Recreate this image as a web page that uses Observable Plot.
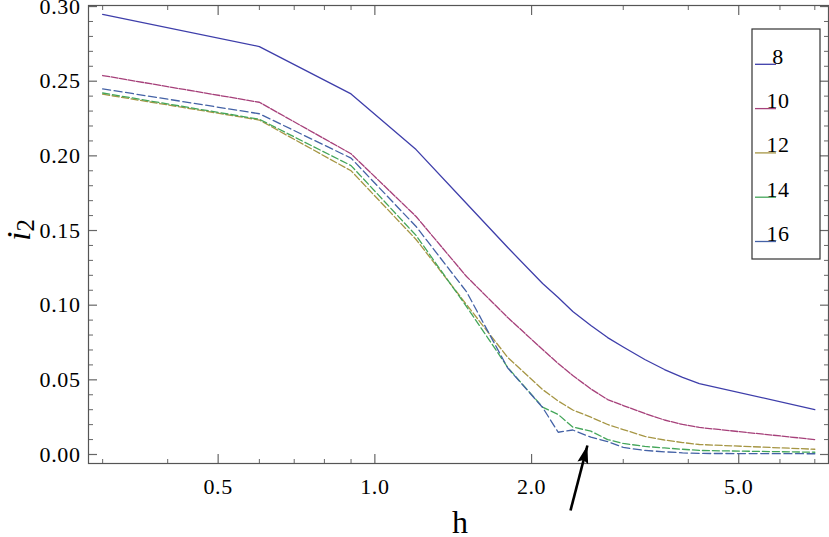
<!DOCTYPE html>
<html><head><meta charset="utf-8">
<script src="https://cdn.jsdelivr.net/npm/d3@7"></script>
<script src="https://cdn.jsdelivr.net/npm/@observablehq/plot@0.6"></script>
<style>
html,body{margin:0;padding:0;background:#fff;}
#chart{position:relative;width:829px;height:537px;}
</style></head><body><div id="chart"></div>
<script>
// ---- data ----
const h   = [0.3, 0.6, 0.9, 1.2, 1.5, 1.8, 2.1, 2.25, 2.4, 2.6, 2.8, 3.0, 3.3, 3.6, 3.9, 4.2, 7.0];
const s8  = [0.2948,0.2732,0.2415,0.2042,0.1681,0.1386,0.1145,0.1051,0.0958,0.0864,0.0783,0.0720,0.0636,0.0569,0.0516,0.0475,0.0301];
const s10 = [0.2538,0.2359,0.2014,0.1594,0.1192,0.0917,0.0703,0.0609,0.0529,0.0439,0.0368,0.0328,0.0275,0.0231,0.0201,0.0181,0.0100];
const s12 = [0.2413,0.2240,0.1900,0.1440,0.1004,0.0650,0.0435,0.0358,0.0298,0.0250,0.0201,0.0167,0.0121,0.0097,0.0080,0.0067,0.0035];
const s14 = [0.2421,0.2245,0.1935,0.1467,0.0991,0.0583,0.0317,0.0268,0.0184,0.0156,0.0100,0.0074,0.0054,0.0044,0.0035,0.0027,0.0015];
const s16 = [0.2449,0.2282,0.1985,0.1527,0.1090,0.0579,0.0315,0.0149,0.0164,0.0116,0.0087,0.0047,0.0027,0.0018,0.0011,0.0007,0.0005];
const seriesNames  = ["8", "10", "12", "14", "16"];
const seriesValues = [s8, s10, s12, s14, s16];
const seriesColors = ["#3e3eaa", "#a6407a", "#a69644", "#44a65a", "#4462a6"];
const seriesDashes = [null, "7,1.6", "7,2.6", "7,3", "8,3.6"];

const xMajor = [0.5, 1, 2, 5];
const xMinor = [0.3, 0.4, 0.6, 0.7, 0.8, 0.9, 3, 4, 6, 7];
const yMajor = [0, 0.05, 0.10, 0.15, 0.20, 0.25, 0.30];
const yMinor = [0.01,0.02,0.03,0.04,0.06,0.07,0.08,0.09,0.11,0.12,0.13,0.14,0.16,0.17,0.18,0.19,0.21,0.22,0.23,0.24,0.26,0.27,0.28,0.29];

const arrowTail = [{h: 2.376, v: -0.0375}];
const arrowTip  = [{h: 2.56, v: 0.006}];

// ---- chart ----
const font = "'Liberation Serif', 'Times New Roman', serif";
const lineMarks = seriesValues.map((vals, i) =>
  Plot.line(h.map((x, j) => ({h: x, v: vals[j]})), {
    x: "h", y: "v", stroke: seriesColors[i], strokeWidth: 1.3,
    strokeDasharray: seriesDashes[i] || undefined
  })
);
const arrowHead = {
  draw(ctx, size) {
    ctx.moveTo(0, 0);
    ctx.lineTo(5.5, 18);
    ctx.lineTo(0, 15);
    ctx.lineTo(-5.5, 18);
    ctx.closePath();
  }
};
const tickStroke = "#666";
const plot = Plot.plot({
  width: 829, height: 537,
  marginLeft: 88, marginRight: 1, marginTop: 5, marginBottom: 74,
  style: {fontFamily: font, fontSize: "22px", color: "#000", background: "#fff", letterSpacing: "0.6px"},
  x: {type: "log", domain: [0.2818, 7.437]},
  y: {domain: [-0.00603, 0.3007]},
  marks: [
    // tick labels
    Plot.axisX({anchor: "bottom", ticks: xMajor, tickSize: 0, tickPadding: 15, tickFormat: d => d.toFixed(1), label: null}),
    Plot.axisY({anchor: "left", ticks: yMajor, tickSize: 0, tickPadding: 8, tickFormat: d => d.toFixed(2), label: null}),
    // inward ticks on all sides
    Plot.axisX({anchor: "bottom", ticks: xMajor, tickSize: -9, tickFormat: () => "", label: null, stroke: tickStroke, strokeWidth: 1.2}),
    Plot.axisX({anchor: "bottom", ticks: xMinor, tickSize: -4, tickFormat: () => "", label: null, stroke: tickStroke}),
    Plot.axisX({anchor: "top", ticks: xMajor, tickSize: -9, tickFormat: () => "", label: null, stroke: tickStroke, strokeWidth: 1.2}),
    Plot.axisX({anchor: "top", ticks: xMinor, tickSize: -4, tickFormat: () => "", label: null, stroke: tickStroke}),
    Plot.axisY({anchor: "left", ticks: yMajor, tickSize: -9, tickFormat: () => "", label: null, stroke: tickStroke, strokeWidth: 1.2}),
    Plot.axisY({anchor: "left", ticks: yMinor, tickSize: -5, tickFormat: () => "", label: null, stroke: tickStroke}),
    Plot.axisY({anchor: "right", ticks: yMajor, tickSize: -9, tickFormat: () => "", label: null, stroke: tickStroke, strokeWidth: 1.2}),
    Plot.axisY({anchor: "right", ticks: yMinor, tickSize: -5, tickFormat: () => "", label: null, stroke: tickStroke}),
    ...lineMarks,
    Plot.frame({stroke: "#555", strokeWidth: 1.2}),
    Plot.link(arrowTail, {x1: "h", y1: "v", x2: () => arrowTip[0].h, y2: () => arrowTip[0].v, stroke: "#000", strokeWidth: 2.6, clip: false}),
    Plot.dot(arrowTip, {x: "h", y: "v", symbol: arrowHead, r: 6, fill: "#000", stroke: "none", rotate: 14.7, clip: false})
  ]
});
document.getElementById("chart").appendChild(plot);

// ---- axis titles and legend ----
const svg = d3.select(plot).style("overflow", "visible");
const yl = svg.append("text")
  .attr("transform", "translate(30,230) rotate(-90)")
  .attr("text-anchor", "middle")
  .style("font-family", font).style("letter-spacing", "0px").attr("fill", "#000");
yl.append("tspan").attr("font-size", 34).attr("font-style", "italic").text("i");
yl.append("tspan").attr("font-size", 25).attr("dy", 4).text("2");

svg.append("text").attr("x", 460).attr("y", 533).attr("text-anchor", "middle")
  .style("font-family", font).style("letter-spacing", "0px").attr("font-size", 32).attr("fill", "#000").text("h");

const lg = svg.append("g");
lg.append("rect").attr("x", 752).attr("y", 29).attr("width", 68).attr("height", 230)
  .attr("fill", "#fff").attr("stroke", "#333").attr("stroke-width", 1.2);
seriesNames.forEach((name, i) => {
  const yy = 64.3 + i * 44.3;
  lg.append("line").attr("x1", 755).attr("x2", 776).attr("y1", yy).attr("y2", yy)
    .attr("stroke", seriesColors[i]).attr("stroke-width", 1.3);
  lg.append("text").attr("x", 778).attr("y", yy - 0.5)
    .style("font-family", font).attr("font-size", 22).attr("fill", "#000").text(name);
});
</script></body></html>
